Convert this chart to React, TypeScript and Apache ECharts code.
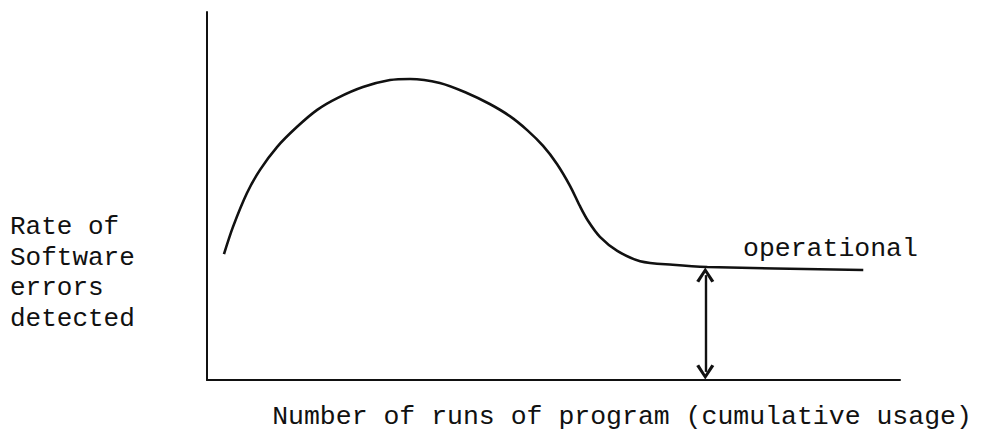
import React, { useEffect, useRef } from "react";
import * as echarts from "echarts";

// Cumulative usage (x) against error detection rate (y), arbitrary units 0..100
const usage = [
  2.45, 3.75, 5.77, 7.65, 10.1, 13.0, 15.9, 18.8, 22.5, 26.4, 29.3, 33.6, 37.5, 40.8,
  43.7, 46.2, 48.5, 50.5, 52.4, 53.8, 55.0, 56.7, 59.2, 62.5, 67.2, 72.2, 94.7,
];
const errorRate = [
  34.2, 41.6, 50.8, 57.1, 63.3, 68.8, 73.4, 76.6, 79.6, 81.5, 81.8, 80.7, 78.0, 75.0,
  71.7, 67.9, 63.6, 58.7, 52.7, 47.3, 43.2, 38.9, 35.1, 32.3, 31.3, 30.7, 29.9,
];
// Operational residual-rate marker (x position, top, bottom)
const residualX = 71.9;
const residualTop = 28.5;
const residualBottom = 2.2;

const yLabelLines = ["Rate of", "Software", "errors", "detected"];
const xLabel = "Number of runs of program (cumulative usage)";
const phaseLabel = "operational";

const FONT = "'Liberation Mono', 'DejaVu Sans Mono', monospace";
const INK = "#111";

export default function App() {
  const ref = useRef<HTMLDivElement>(null);

  useEffect(() => {
    if (!ref.current) return;
    const chart = echarts.init(ref.current, undefined, { renderer: "svg" });
    // open chevron arrow head, tip pointing up in its own frame
    const chevron = "path://M0,9 L5,0 L10,9 L8.4,10 L5,3.4 L1.6,10 Z";

    chart.setOption({
      animation: false,
      backgroundColor: "#fff",
      grid: { left: 207, top: 12, right: 85, bottom: 57 },
      xAxis: {
        type: "value",
        min: 0,
        max: 100,
        axisLine: { show: true, lineStyle: { color: INK, width: 2 } },
        axisTick: { show: false },
        axisLabel: { show: false },
        splitLine: { show: false },
      },
      yAxis: {
        type: "value",
        min: 0,
        max: 100,
        axisLine: { show: true, lineStyle: { color: INK, width: 2 } },
        axisTick: { show: false },
        axisLabel: { show: false },
        splitLine: { show: false },
      },
      series: [
        {
          type: "line",
          data: usage.map((x, i) => [x, errorRate[i]]),
          smooth: 0.3,
          showSymbol: false,
          lineStyle: { color: INK, width: 2.6 },
          markLine: {
            silent: true,
            symbol: [chevron, chevron],
            symbolSize: [18, 15],
            label: { show: false },
            lineStyle: { color: INK, width: 2.4, type: "solid" },
            itemStyle: { color: INK },
            data: [
              [
                { coord: [residualX, residualTop] },
                { coord: [residualX, residualBottom] },
              ],
            ],
          },
        },
      ],
      graphic: [
        {
          type: "text",
          left: 10,
          top: 212,
          style: {
            text: yLabelLines.join("\n"),
            font: `26px ${FONT}`,
            lineHeight: 30.5,
            fill: INK,
          },
        },
        {
          type: "text",
          x: 743,
          y: 249,
          style: {
            text: phaseLabel,
            font: `26.5px ${FONT}`,
            fill: INK,
            verticalAlign: "middle",
          },
        },
        {
          type: "text",
          x: 622,
          y: 417,
          style: {
            text: xLabel,
            font: `26.5px ${FONT}`,
            fill: INK,
            align: "center",
            verticalAlign: "middle",
          },
        },
      ],
    });
    return () => chart.dispose();
  }, []);

  return (
    <div
      ref={ref}
      style={{ position: "fixed", left: 0, top: 0, width: 985, height: 437, background: "#fff" }}
    />
  );
}
